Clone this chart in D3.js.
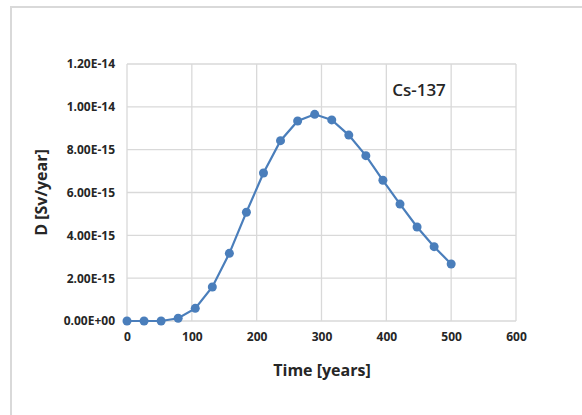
<!DOCTYPE html>
<html><head><meta charset="utf-8">
<script src="https://cdn.jsdelivr.net/npm/d3@7"></script>
<style>body{margin:0;background:#fff}svg{display:block}</style>
</head><body>
<script>
const years = [0, 26.3, 52.6, 78.9, 105.3, 131.6, 157.9, 184.2, 210.5, 236.8, 263.2, 289.5, 315.8, 342.1, 368.4, 394.7, 421.1, 447.4, 473.7, 500];
const dose = [0, 0, 0, 1.3e-16, 5.9e-16, 1.59e-15, 3.16e-15, 5.08e-15, 6.91e-15, 8.42e-15, 9.34e-15, 9.65e-15, 9.39e-15, 8.68e-15, 7.72e-15, 6.57e-15, 5.46e-15, 4.39e-15, 3.47e-15, 2.66e-15];
const xTicks = [0, 100, 200, 300, 400, 500, 600];
const yTicks = [0, 2e-15, 4e-15, 6e-15, 8e-15, 1e-14, 1.2e-14];
const yTickLabels = ["0.00E+00", "2.00E-15", "4.00E-15", "6.00E-15", "8.00E-15", "1.00E-14", "1.20E-14"];
const seriesLabel = "Cs-137";

const W = 582, H = 415;
const svg = d3.select("body").append("svg").attr("width", W).attr("height", H);
const font = "'Open Sans', 'Liberation Sans', sans-serif";

// outer frame
svg.append("path").attr("d", `M11,${H} L11,7 L${W},7`).attr("fill", "none")
  .attr("stroke", "#d9d9d9").attr("stroke-width", 2);

const L = 127, R = 516, T = 64, B = 321;
const x = d3.scaleLinear().domain([0, 600]).range([L, R]);
const y = d3.scaleLinear().domain([0, 1.2e-14]).range([B, T]);

const grid = svg.append("g");
grid.selectAll("line.v").data(xTicks).join("line")
  .attr("x1", d => x(d)).attr("x2", d => x(d)).attr("y1", T).attr("y2", B)
  .attr("stroke", "#d9d9d9").attr("stroke-width", 1.3);
grid.selectAll("line.h").data(yTicks).join("line")
  .attr("x1", L).attr("x2", R).attr("y1", d => y(d)).attr("y2", d => y(d))
  .attr("stroke", "#d9d9d9").attr("stroke-width", 1.3);

const xAxis = d3.axisBottom(x).tickValues(xTicks).tickSize(0).tickPadding(11).tickFormat(d3.format("d"));
const gx = svg.append("g").attr("transform", `translate(0,${B})`).call(xAxis);
gx.select(".domain").remove();
gx.selectAll("text").attr("font-family", font).attr("font-size", 12).attr("font-weight", "bold").attr("fill", "#262626");

const yAxis = d3.axisLeft(y).tickValues(yTicks).tickSize(0).tickPadding(12).tickFormat((d, i) => yTickLabels[i]);
const gy = svg.append("g").attr("transform", `translate(${L},0)`).call(yAxis);
gy.select(".domain").remove();
gy.selectAll("text").attr("font-family", font).attr("font-size", 12).attr("font-weight", "bold").attr("fill", "#262626");

const data = years.map((t, i) => ({t, v: dose[i]}));
svg.append("path").datum(data)
  .attr("d", d3.line().x(d => x(d.t)).y(d => y(d.v)))
  .attr("fill", "none").attr("stroke", "#4a7ebb").attr("stroke-width", 2.2);
svg.selectAll("circle.pt").data(data).join("circle")
  .attr("cx", d => x(d.t)).attr("cy", d => y(d.v)).attr("r", 4.5)
  .attr("fill", "#4a7ebb");

svg.append("text").attr("x", 322).attr("y", 376).attr("text-anchor", "middle")
  .attr("font-family", font).attr("font-size", 16).attr("font-weight", "bold").attr("fill", "#262626")
  .text("Time [years]");
svg.append("text").attr("transform", `translate(47,${(T + B) / 2}) rotate(-90)`).attr("text-anchor", "middle")
  .attr("font-family", font).attr("font-size", 16).attr("font-weight", "bold").attr("fill", "#262626")
  .text("D [Sv/year]");
svg.append("text").attr("x", 419).attr("y", 96).attr("text-anchor", "middle")
  .attr("font-family", font).attr("font-size", 17).attr("font-weight", 600).attr("fill", "#262626")
  .text(seriesLabel);
</script>
</body></html>
